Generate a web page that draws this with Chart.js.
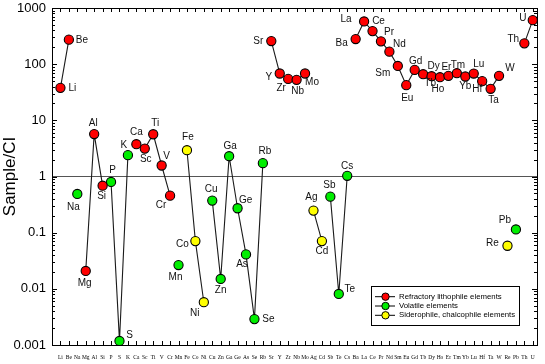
<!DOCTYPE html>
<html><head><meta charset="utf-8">
<script src="https://cdn.jsdelivr.net/npm/chart.js@4/dist/chart.umd.min.js"></script>
<style>html,body{margin:0;padding:0;background:#fff;}#wrap{width:545px;height:364px;position:relative}</style>
</head><body><div id="wrap"><canvas id="c" width="545" height="364"></canvas></div>
<script>
const elements = ['Li','Be','Na','Mg','Al','Si','P','S','K','Ca','Sc','Ti','V','Cr','Mn','Fe','Co','Ni','Cu','Zn','Ga','Ge','As','Se','Rb','Sr','Y','Zr','Nb','Mo','Ag','Cd','Sb','Te','Cs','Ba','La','Ce','Pr','Nd','Sm','Eu','Gd','Tb','Dy','Ho','Er','Tm','Yb','Lu','Hf','Ta','W','Re','Pb','Th','U'];

// Refractory lithophile elements
const refractory = [37.9,273,null,0.0208,5.7,0.686,null,null,null,3.76,3.14,5.65,1.57,0.456,null,null,null,null,null,null,null,null,null,null,null,258,68.2,54.7,52.6,68.2,null,null,null,null,null,280,576,388,255,167,93,42.3,79,66.3,61,58.6,61.9,69,60.3,68,49.8,36.4,61.9,null,null,235,608];
// Volatile elements
const volatile = [null,null,0.489,null,null,null,0.80,0.00118,2.4,null,null,null,null,null,0.0265,null,null,null,0.372,0.015,2.30,0.272,0.041,0.00289,1.73,null,null,null,null,null,null,null,0.438,0.0081,1.03,null,null,null,null,null,null,null,null,null,null,null,null,null,null,null,null,null,null,null,0.114,null,null];
// Siderophile, chalcophile elements
const siderophile = [null,null,null,null,null,null,null,null,null,null,null,null,null,null,null,2.94,0.0707,0.00578,null,null,null,null,null,null,null,null,null,null,null,null,0.247,0.0707,null,null,null,null,null,null,null,null,null,null,null,null,null,null,null,null,null,null,null,null,null,0.0585,null,null,null];

const seriesNames = ['Refractory lithophile elements','Volatile elements','Siderophile, chalcophile elements'];
const yTickLabels = ['0.001','0.01','0.1','1','10','100','1000'];

const colors = ['#ff0000','#00ee00','#ffff00'];

// label placement (center offsets in px relative to marker)
const labelOffsets = {
 Li:[12,0],Be:[13,1],Na:[-4,13],Mg:[-1,12],Al:[-1,-11],Si:[-1,11],P:[1.5,-12],S:[10,-6],K:[-4,-10],
 Ca:[0,-12],Sc:[1,11],Ti:[2,-11],V:[5,-9],Cr:[-9,10],Mn:[-3,12],Fe:[1,-13],Co:[-13,3],Ni:[-9,11],
 Cu:[-1,-11],Zn:[0,11],Ga:[1,-10],Ge:[8,-8],As:[-4,10],Se:[14,0],Rb:[2,-12],Sr:[-13,0],Y:[-11,4],
 Zr:[-7,9],Nb:[1,11],Mo:[7,9],Ag:[-2,-13],Cd:[0,10],Sb:[-1,-11],Te:[11,-5],Cs:[0,-10],Ba:[-14,4],
 La:[-18,-2],Ce:[6,-10],Pr:[8,-9],Nd:[10,-7],Sm:[-15,7],Eu:[1,13],Gd:[1,-9],Tb:[7,9],Dy:[2,-10],
 Ho:[-2,12],Er:[-2,-9],Tm:[1,-8],Yb:[0,10],Lu:[5,-9],Hf:[-5,8],Ta:[3,11],W:[11,-8],Re:[-15,-2],
 Pb:[-11,-9],Th:[-11,-4],U:[-10,-2]
};

function toPoints(arr){ return arr.map((v,i)=>({x:i+1, y:v})); }

function mkDataset(label, arr, color){
  return {
    label, data: toPoints(arr), spanGaps:false,
    borderColor:'#1a1a1a', borderWidth:1.1, fill:false, tension:0,
    pointRadius:4.6, pointBackgroundColor:color, pointBorderColor:'#000', pointBorderWidth:1.1,
    pointHoverRadius:4.6
  };
}

const axesPlugin = {
  id:'axesBox',
  beforeDatasetsDraw(chart){
    const {ctx, chartArea:a, scales:{x,y}} = chart;
    ctx.save();
    ctx.strokeStyle='#000'; ctx.lineWidth=1;
    ctx.beginPath();
    for(let e=-3;e<=3;e++){
      for(let m=1;m<=9;m++){
        if(e===3 && m>1) break;
        const v = m*Math.pow(10,e);
        const py = Math.round(y.getPixelForValue(v))+0.5;
        const len = m===1?5:3;
        ctx.moveTo(a.left, py); ctx.lineTo(a.left+len, py);
        ctx.moveTo(a.right, py); ctx.lineTo(a.right-len, py);
      }
    }
    for(let i=1;i<=elements.length;i++){
      const px = Math.round(x.getPixelForValue(i))+0.5;
      ctx.moveTo(px, a.bottom); ctx.lineTo(px, a.bottom-4);
      ctx.moveTo(px, a.top); ctx.lineTo(px, a.top+4);
    }
    ctx.stroke();
    ctx.strokeRect(Math.round(a.left)+0.5, Math.round(a.top)+0.5, Math.round(a.right-a.left), Math.round(a.bottom-a.top));
    ctx.restore();
  }
};

const labelPlugin = {
  id:'pointLabels',
  afterDatasetsDraw(chart){
    const ctx = chart.ctx;
    ctx.save();
    ctx.font = '10px "Liberation Sans", Arial, sans-serif';
    ctx.fillStyle = '#111';
    ctx.textAlign='center'; ctx.textBaseline='middle';
    chart.data.datasets.forEach((ds,di)=>{
      const meta = chart.getDatasetMeta(di);
      ds.data.forEach((p,j)=>{
        if(p.y==null) return;
        const el = meta.data[j];
        const name = elements[j];
        const off = labelOffsets[name]||[0,-10];
        ctx.fillText(name, el.x+off[0], el.y+off[1]);
      });
    });
    ctx.restore();
  }
};

const legendPlugin = {
  id:'boxLegend',
  afterDraw(chart){
    const ctx = chart.ctx;
    ctx.save();
    ctx.fillStyle='#fff'; ctx.strokeStyle='#000'; ctx.lineWidth=1;
    ctx.fillRect(371.5,286.5,148,39);
    ctx.strokeRect(371.5,286.5,148,39);
    ctx.font='7.8px "Liberation Sans", Arial, sans-serif';
    ctx.textAlign='left'; ctx.textBaseline='middle';
    seriesNames.forEach((n,i)=>{
      const yy = 296.7 + i*9.3;
      ctx.strokeStyle='#000'; ctx.lineWidth=1;
      ctx.beginPath(); ctx.moveTo(375,yy); ctx.lineTo(395,yy); ctx.stroke();
      ctx.beginPath(); ctx.arc(385.5,yy,3.7,0,Math.PI*2);
      ctx.fillStyle=colors[i]; ctx.fill(); ctx.stroke();
      ctx.fillStyle='#000';
      ctx.fillText(n, 399, yy);
    });
    ctx.restore();
  }
};

function isDecade(v){ const l=Math.log10(v); return Math.abs(l-Math.round(l))<1e-6; }

new Chart(document.getElementById('c'), {
  type:'line',
  data:{ datasets:[
    mkDataset(seriesNames[0], refractory, colors[0]),
    mkDataset(seriesNames[1], volatile, colors[1]),
    mkDataset(seriesNames[2], siderophile, colors[2])
  ]},
  options:{
    responsive:false, animation:false, devicePixelRatio:1,
    layout:{padding:{top:8,right:8,left:0,bottom:0}},
    plugins:{legend:{display:false}, tooltip:{enabled:false}},
    events:[],
    scales:{
      x:{type:'linear', min:0, max:57.5,
        grid:{display:false, drawTicks:false}, border:{display:false},
        ticks:{stepSize:1, autoSkip:false, maxRotation:0, minRotation:0, includeBounds:false, padding:9,
          font:{family:'"Liberation Serif", "Times New Roman", serif', size:5.5}, color:'#000',
          callback:(v)=> elements[v-1]||''},
        afterFit:(s)=>{ s.height=19; s.paddingLeft=0; s.paddingRight=0; }
      },
      y:{type:'logarithmic', min:0.001, max:1000,
        grid:{drawTicks:false, lineWidth:1, color:(c)=> (c.tick && Math.abs(c.tick.value-1)<1e-9) ? '#555' : 'rgba(0,0,0,0)'},
        border:{display:false},
        ticks:{autoSkip:false, padding:6, font:{family:'"Liberation Sans", Arial, sans-serif', size:13}, color:'#000',
          callback:(v)=> isDecade(v) ? yTickLabels[Math.round(Math.log10(v))+3] : ''},
        title:{display:true, text:'Sample/CI', font:{family:'"Liberation Sans", Arial, sans-serif', size:17}, color:'#000', padding:{top:0,bottom:0}},
        afterFit:(s)=>{ s.width=52; s.paddingTop=0; s.paddingBottom=0; }
      }
    }
  },
  plugins:[axesPlugin, labelPlugin, legendPlugin]
});
</script>
</body></html>
